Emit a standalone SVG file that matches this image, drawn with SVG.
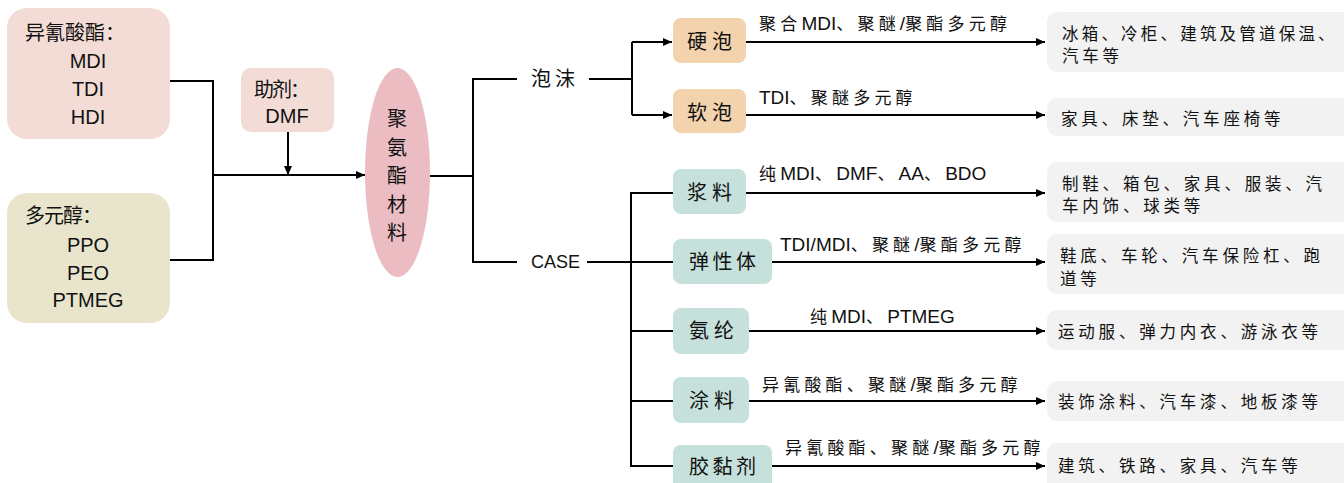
<svg xmlns="http://www.w3.org/2000/svg" width="1344" height="483" viewBox="0 0 1344 483">
<style>
text{font-family:"Liberation Sans","Noto Sans CJK SC",sans-serif;fill:#111}
.cn{font-family:"Noto Sans CJK SC",sans-serif}
.big{font-size:20px}
.lab{font-size:19px}
.lab .c{font-family:"Noto Sans CJK SC",sans-serif;font-size:17px;letter-spacing:4.2px}
.app{font-size:16.5px;letter-spacing:3.8px}
.ln{fill:none;stroke:#000;stroke-width:2}
.m{text-anchor:middle}
</style>
<defs>
<marker id="ar" markerUnits="userSpaceOnUse" markerWidth="9" markerHeight="8" refX="9" refY="4" orient="auto"><path d="M0,0 L9,4 L0,8 z" fill="#000"/></marker>
</defs>
<g id="connectors">
<path class="ln" d="M170,81 H213 V260 H170"/>
<path class="ln" d="M213,175 H365" marker-end="url(#ar)"/>
<path class="ln" d="M288,132 V175" marker-end="url(#ar)"/>
<path class="ln" d="M430,176 H473"/>
<path class="ln" d="M517,79 H473 V262 H517"/>
<path class="ln" d="M589,79 H632"/>
<path class="ln" d="M632,42 V115"/>
<path class="ln" d="M632,42 H672" marker-end="url(#ar)"/>
<path class="ln" d="M632,115 H672" marker-end="url(#ar)"/>
<path class="ln" d="M587,262 H673"/>
<path class="ln" d="M673,193 H631 V466 H673"/>
<path class="ln" d="M631,331 H673"/>
<path class="ln" d="M631,401 H673"/>
<path class="ln" d="M746,42 H1045" marker-end="url(#ar)"/>
<path class="ln" d="M746,115 H1045" marker-end="url(#ar)"/>
<path class="ln" d="M746,193 H1045" marker-end="url(#ar)"/>
<path class="ln" d="M772,262 H1045" marker-end="url(#ar)"/>
<path class="ln" d="M749,331 H1045" marker-end="url(#ar)"/>
<path class="ln" d="M749,401 H1045" marker-end="url(#ar)"/>
<path class="ln" d="M772,466 H1045" marker-end="url(#ar)"/>
<text class="lab" x="759" y="30"><tspan class="c">聚合</tspan>MDI<tspan class="c">、聚醚</tspan>/<tspan class="c">聚酯多元醇</tspan></text>
<text class="lab" x="759" y="104">TDI<tspan class="c">、聚醚多元醇</tspan></text>
<text class="lab" x="759" y="180"><tspan class="c">纯</tspan>MDI<tspan class="c">、</tspan>DMF<tspan class="c">、</tspan>AA<tspan class="c">、</tspan>BDO</text>
<text class="lab" x="780" y="251">TDI/MDI<tspan class="c">、聚醚</tspan>/<tspan class="c">聚酯多元醇</tspan></text>
<text class="lab" x="810" y="323"><tspan class="c">纯</tspan>MDI<tspan class="c">、</tspan>PTMEG</text>
<text class="lab" x="762" y="391"><tspan class="c">异氰酸酯、聚醚</tspan>/<tspan class="c">聚酯多元醇</tspan></text>
<text class="lab" x="785" y="454"><tspan class="c">异氰酸酯、聚醚</tspan>/<tspan class="c">聚酯多元醇</tspan></text>
</g>
<g id="isocyanate">
<rect x="7" y="8" width="163" height="131" rx="20" fill="#f4dcd6"/>
<text class="big cn" x="25" y="40" textLength="100">异氰酸酯：</text>
<text class="big m" x="88" y="68">MDI</text>
<text class="big m" x="88" y="96">TDI</text>
<text class="big m" x="88" y="124">HDI</text>
</g>
<g id="polyol">
<rect x="7" y="193" width="163" height="130" rx="20" fill="#e9e5cd"/>
<text class="big cn" x="25" y="223" textLength="77">多元醇：</text>
<text class="big m" x="88" y="252">PPO</text>
<text class="big m" x="88" y="280">PEO</text>
<text class="big m" x="88" y="307">PTMEG</text>
</g>
<g id="additive">
<rect x="241" y="68" width="93" height="64" rx="10" fill="#f4dcd6"/>
<text class="big cn" x="254" y="97" textLength="56">助剂：</text>
<text class="big m" x="287" y="123">DMF</text>
</g>
<g id="pu">
<ellipse cx="397.5" cy="172.5" rx="32.5" ry="104.5" fill="#ebbdc3"/>
<text class="big m cn" x="397" y="126">聚</text>
<text class="big m cn" x="397" y="155">氨</text>
<text class="big m cn" x="397" y="183">酯</text>
<text class="big m cn" x="397" y="212">材</text>
<text class="big m cn" x="397" y="240">料</text>
</g>
<g id="foam"><text class="big cn" x="531" y="86" textLength="44">泡沫</text></g>
<g id="case"><text x="531" y="268" font-size="18">CASE</text></g>
<g id="rigid"><rect x="673" y="18" width="73" height="45" rx="8" fill="#f2d3ad"/><text class="big cn" x="687" y="49" textLength="45">硬泡</text></g>
<g id="soft"><rect x="673" y="89" width="73" height="44" rx="8" fill="#f2d3ad"/><text class="big cn" x="687" y="120" textLength="45">软泡</text></g>
<g id="slurry"><rect x="673" y="169" width="73" height="45" rx="8" fill="#c6e0db"/><text class="big cn" x="687" y="200" textLength="45">浆料</text></g>
<g id="elastomer"><rect x="673" y="239" width="99" height="45" rx="8" fill="#c6e0db"/><text class="big cn" x="689" y="269" textLength="67">弹性体</text></g>
<g id="spandex"><rect x="673" y="308" width="76" height="46" rx="8" fill="#c6e0db"/><text class="big cn" x="689" y="338" textLength="45">氨纶</text></g>
<g id="coating"><rect x="673" y="377" width="76" height="46" rx="8" fill="#c6e0db"/><text class="big cn" x="689" y="408" textLength="45">涂料</text></g>
<g id="adhesive"><rect x="673" y="445" width="99" height="50" rx="8" fill="#c6e0db"/><text class="big cn" x="689" y="474" textLength="67">胶黏剂</text></g>
<g id="app1"><rect x="1047" y="12" width="310" height="60" rx="10" fill="#f2f2f2"/><text class="app cn" x="1062" y="39.5" style="letter-spacing:3.2px">冰箱、冷柜、建筑及管道保温、<tspan x="1062" dy="22.5" style="letter-spacing:3.8px">汽车等</tspan></text></g>
<g id="app2"><rect x="1047" y="98" width="310" height="38" rx="10" fill="#f2f2f2"/><text class="app cn" x="1061" y="125">家具、床垫、汽车座椅等</text></g>
<g id="app3"><rect x="1047" y="162" width="310" height="60" rx="10" fill="#f2f2f2"/><text class="app cn" x="1062" y="189.5">制鞋、箱包、家具、服装、汽<tspan x="1062" dy="22.5">车内饰、球类等</tspan></text></g>
<g id="app4"><rect x="1047" y="234" width="310" height="60" rx="10" fill="#f2f2f2"/><text class="app cn" x="1060" y="262">鞋底、车轮、汽车保险杠、跑<tspan x="1060" dy="22.5">道等</tspan></text></g>
<g id="app5"><rect x="1047" y="310" width="310" height="40" rx="10" fill="#f2f2f2"/><text class="app cn" x="1058" y="338">运动服、弹力内衣、游泳衣等</text></g>
<g id="app6"><rect x="1047" y="381" width="310" height="40" rx="10" fill="#f2f2f2"/><text class="app cn" x="1058" y="408">装饰涂料、汽车漆、地板漆等</text></g>
<g id="app7"><rect x="1047" y="443" width="310" height="50" rx="10" fill="#f2f2f2"/><text class="app cn" x="1058" y="472">建筑、铁路、家具、汽车等</text></g>
</svg>
